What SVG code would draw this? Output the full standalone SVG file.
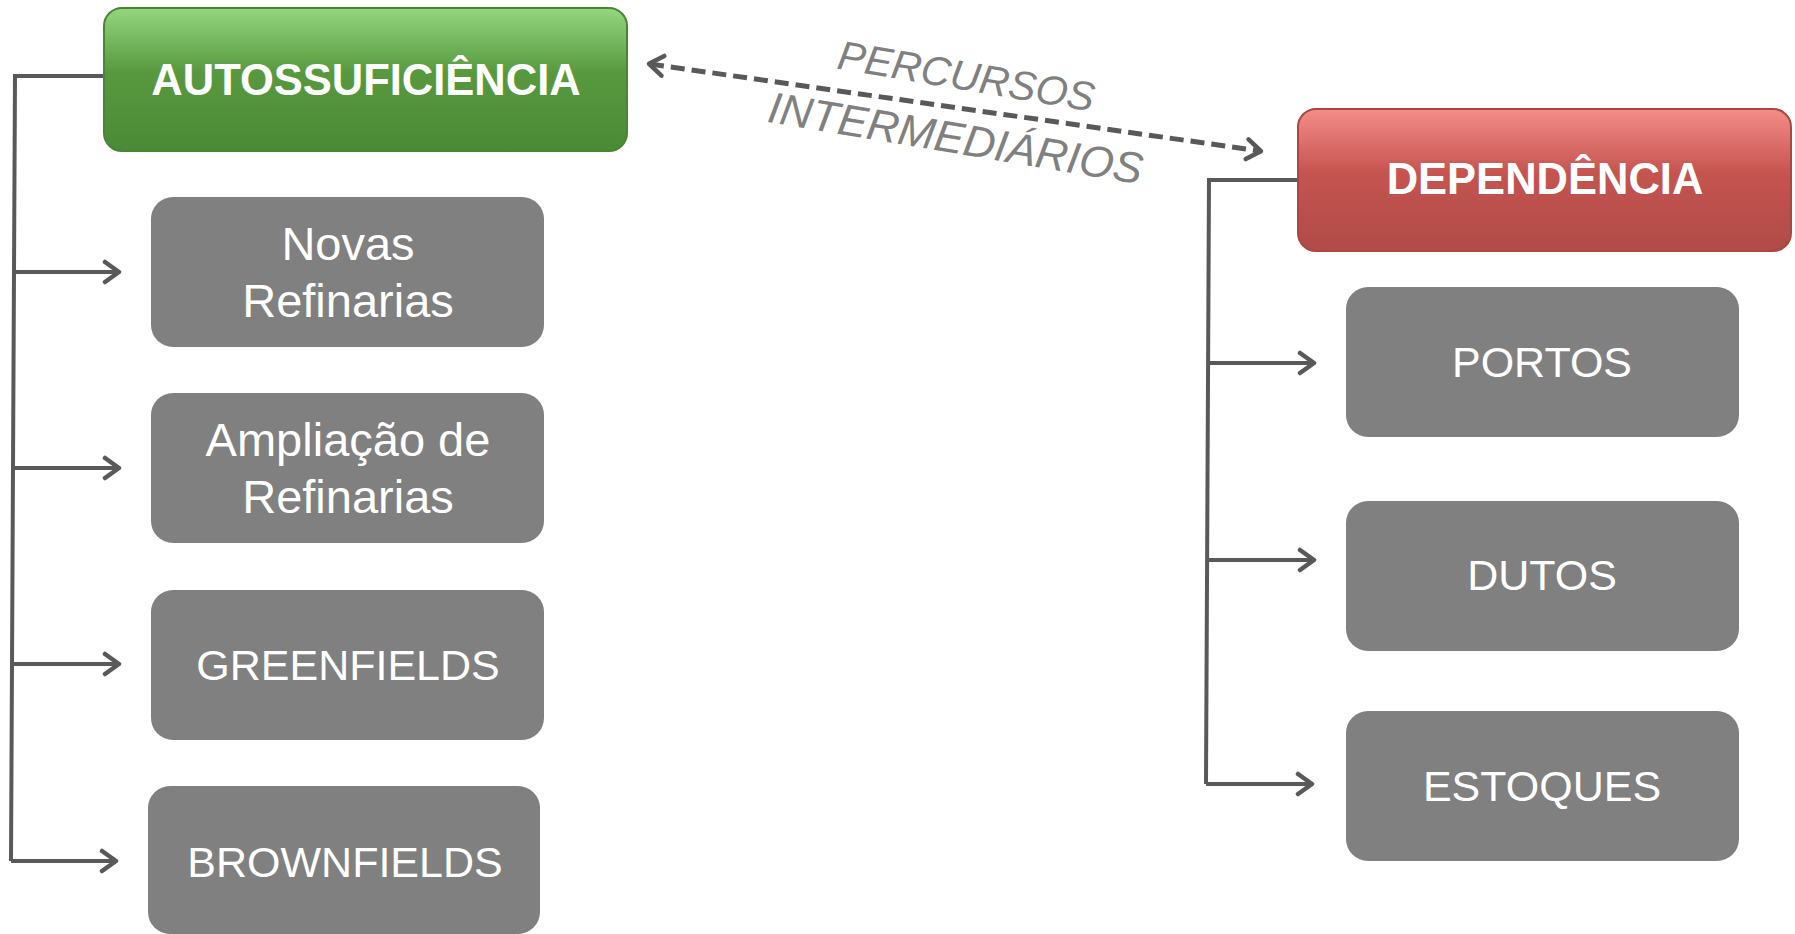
<svg xmlns="http://www.w3.org/2000/svg" width="1795" height="934" viewBox="0 0 1795 934">
<defs>
<linearGradient id="gGreen" x1="0" y1="0" x2="0" y2="1">
<stop offset="0" stop-color="#93d77f"/>
<stop offset="0.45" stop-color="#58993f"/>
<stop offset="1" stop-color="#4b8a36"/>
</linearGradient>
<linearGradient id="gRed" x1="0" y1="0" x2="0" y2="1">
<stop offset="0" stop-color="#f58d89"/>
<stop offset="0.45" stop-color="#c5544f"/>
<stop offset="1" stop-color="#b04b48"/>
</linearGradient>
<marker id="arr" markerUnits="userSpaceOnUse" markerWidth="26" markerHeight="26" refX="17" refY="13" orient="auto-start-reverse" viewBox="0 0 26 26">
<path d="M4,3 L18,13 L4,23" fill="none" stroke="#595959" stroke-width="4.5" stroke-linecap="round" stroke-linejoin="round"/>
</marker>
<style>
.hdr{font-family:"Liberation Sans",Arial,sans-serif;font-weight:bold;font-size:43.5px;fill:#ffffff;text-anchor:middle}
.box{fill:#808080}
.lbl{font-family:"Liberation Sans",Arial,sans-serif;font-size:43px;fill:#ffffff;text-anchor:middle}
.lbl2{font-family:"Liberation Sans",Arial,sans-serif;font-size:47px;fill:#ffffff;text-anchor:middle}
.con{fill:none;stroke:#595959;stroke-width:4}
.ital{font-family:"Liberation Sans",Arial,sans-serif;font-style:italic;fill:#808080;text-anchor:middle}
</style>
</defs>
<rect width="1795" height="934" fill="#ffffff"/>

<g id="connectors">
<polyline class="con" points="104,76 15,76 11,861"/>
<line class="con" x1="14" y1="272" x2="118" y2="272" marker-end="url(#arr)"/>
<line class="con" x1="13" y1="468" x2="118" y2="468" marker-end="url(#arr)"/>
<line class="con" x1="12" y1="664" x2="118" y2="664" marker-end="url(#arr)"/>
<line class="con" x1="11" y1="861" x2="115" y2="861" marker-end="url(#arr)"/>
<polyline class="con" points="1298,180 1209,180 1206,784"/>
<line class="con" x1="1209" y1="363" x2="1313" y2="363" marker-end="url(#arr)"/>
<line class="con" x1="1208" y1="560" x2="1313" y2="560" marker-end="url(#arr)"/>
<line class="con" x1="1206" y1="784" x2="1311" y2="784" marker-end="url(#arr)"/>
<line x1="650" y1="64" x2="1260" y2="151" fill="none" stroke="#595959" stroke-width="5" stroke-dasharray="14,7" marker-start="url(#arr)" marker-end="url(#arr)"/>
<text class="ital" font-size="41" transform="translate(964,90) rotate(9.5)">PERCURSOS</text>
<text class="ital" font-size="44" transform="translate(953,153) rotate(9.5)">INTERMEDIÁRIOS</text>
</g>

<g id="autossuficiencia">
<rect x="104" y="8" width="523" height="143" rx="18" fill="url(#gGreen)" stroke="#4a8436" stroke-width="2"/>
<text class="hdr" x="366" y="95">AUTOSSUFICIÊNCIA</text>
</g>
<g id="novas-refinarias">
<rect class="box" x="151" y="197" width="393" height="150" rx="22"/>
<text class="lbl2" x="348" y="260">Novas</text>
<text class="lbl2" x="348" y="317">Refinarias</text>
</g>
<g id="ampliacao-refinarias">
<rect class="box" x="151" y="393" width="393" height="150" rx="22"/>
<text class="lbl2" x="348" y="456">Ampliação de</text>
<text class="lbl2" x="348" y="513">Refinarias</text>
</g>
<g id="greenfields">
<rect class="box" x="151" y="590" width="393" height="150" rx="22"/>
<text class="lbl" x="348" y="680">GREENFIELDS</text>
</g>
<g id="brownfields">
<rect class="box" x="148" y="786" width="392" height="148" rx="22"/>
<text class="lbl" x="345" y="877">BROWNFIELDS</text>
</g>

<g id="dependencia">
<rect x="1298" y="109" width="493" height="142" rx="18" fill="url(#gRed)" stroke="#a84744" stroke-width="2"/>
<text class="hdr" x="1545" y="194">DEPENDÊNCIA</text>
</g>
<g id="portos">
<rect class="box" x="1346" y="287" width="393" height="150" rx="22"/>
<text class="lbl" x="1542" y="377">PORTOS</text>
</g>
<g id="dutos">
<rect class="box" x="1346" y="501" width="393" height="150" rx="22"/>
<text class="lbl" x="1542" y="590">DUTOS</text>
</g>
<g id="estoques">
<rect class="box" x="1346" y="711" width="393" height="150" rx="22"/>
<text class="lbl" x="1542" y="801">ESTOQUES</text>
</g>
</svg>
